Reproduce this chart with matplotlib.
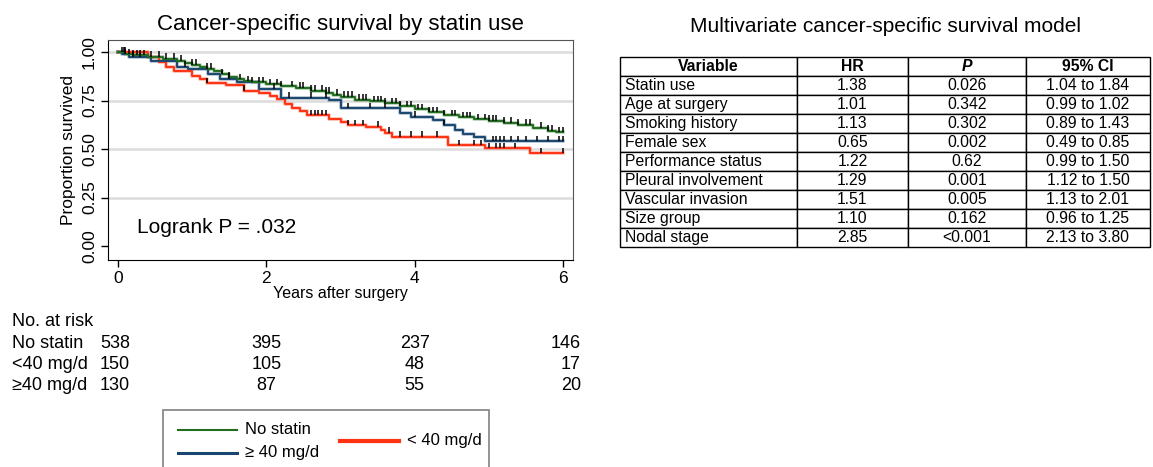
import matplotlib
matplotlib.use("Agg")
import matplotlib.pyplot as plt
import matplotlib.transforms as mtransforms
from matplotlib.lines import Line2D
from matplotlib.patches import Rectangle
import numpy as np

plt.rcParams['font.family'] = ['Liberation Sans', 'DejaVu Sans']

# Kaplan-Meier steps: (time in years, survival after the step)
green_t = [0, 0.1, 0.2, 0.4, 0.6, 0.8, 0.9, 1.0, 1.1, 1.2, 1.3, 1.4, 1.5, 1.6, 1.7, 1.8, 2.0,
           2.2, 2.4, 2.6, 2.8, 2.9, 3.0, 3.2, 3.4, 3.6, 3.8, 4.0, 4.2, 4.4, 4.6, 4.8, 5.0,
           5.2, 5.4, 5.6, 5.8, 5.9, 6.0]
green_s = [1.0, 0.99, 0.985, 0.975, 0.965, 0.955, 0.945, 0.935, 0.925, 0.915, 0.90, 0.885,
           0.87, 0.86, 0.85, 0.845, 0.835, 0.825, 0.815, 0.80, 0.79, 0.78, 0.77, 0.755, 0.745,
           0.735, 0.72, 0.705, 0.69, 0.675, 0.665, 0.655, 0.645, 0.635, 0.625, 0.61, 0.595,
           0.587, 0.587]

navy_t = [0, 0.05, 0.15, 0.45, 0.8, 0.95, 1.22, 1.37, 1.6, 1.9, 2.2, 2.85, 3.0, 3.8, 3.95,
          4.25, 4.4, 4.55, 4.65, 4.8, 4.95, 6.0]
navy_s = [1.0, 0.99, 0.975, 0.954, 0.925, 0.915, 0.885, 0.862, 0.845, 0.81, 0.765, 0.755,
          0.71, 0.687, 0.667, 0.65, 0.624, 0.596, 0.576, 0.56, 0.541, 0.541]

red_t = [0, 0.4, 0.55, 0.65, 0.75, 1.0, 1.1, 1.2, 1.45, 1.7, 1.9, 2.05, 2.15, 2.25, 2.35,
         2.45, 2.55, 2.85, 3.0, 3.1, 3.35, 3.55, 3.6, 3.7, 4.45, 4.95, 5.55, 6.0]
red_s = [1.0, 0.975, 0.95, 0.925, 0.90, 0.876, 0.86, 0.84, 0.83, 0.80, 0.79, 0.773, 0.756,
         0.73, 0.713, 0.696, 0.674, 0.656, 0.64, 0.624, 0.614, 0.598, 0.584, 0.564, 0.52,
         0.503, 0.478, 0.478]

# censoring marks (years)
green_cens = [0.05, 0.08, 0.1, 0.15, 0.2, 0.25, 0.3, 0.35, 0.45, 0.55, 0.65, 0.75, 0.85, 1.0,
              1.05, 1.2, 1.25, 1.4, 1.5, 1.65, 1.75, 1.8, 1.9, 1.95, 2.05, 2.15, 2.2, 2.35,
              2.45, 2.5, 2.6, 2.65, 2.75, 2.8, 2.85, 2.95, 3.05, 3.1, 3.15, 3.25, 3.3, 3.35,
              3.45, 3.5, 3.55, 3.6, 3.7, 3.75, 3.8, 3.9, 3.95, 4.05, 4.1, 4.2, 4.25, 4.3, 4.4,
              4.5, 4.55, 4.65, 4.7, 4.75, 4.85, 4.95, 5.0, 5.05, 5.1, 5.2, 5.3, 5.4, 5.5,
              5.55, 5.7, 5.8, 5.85, 5.95, 6.0]
navy_cens = [0.1, 0.2, 0.3, 0.9, 1.5, 2.1, 2.3, 2.6, 2.8, 3.1, 3.4, 3.6, 4.0, 4.4, 5.05, 5.1,
             5.15, 5.2, 5.3, 5.4, 5.5, 5.65, 5.8, 5.95, 6.0]
red_cens = [0.1, 1.2, 1.7, 2.6, 2.65, 2.7, 2.75, 2.8, 3.1, 3.2, 3.3, 3.5, 3.65, 3.8, 3.95,
            4.1, 4.3, 4.6, 4.8, 4.9, 5.0, 5.1, 5.15, 5.2, 5.35, 5.7, 6.0]

risk_groups = ['No statin', '<40 mg/d', '\u226540 mg/d']
risk_times = [0, 2, 4, 6]
risk_counts = [[538, 395, 237, 146], [150, 105, 48, 17], [130, 87, 55, 20]]

tab_cols = ['Variable', 'HR', 'P', '95% CI']
tab_vars = ['Statin use', 'Age at surgery', 'Smoking history', 'Female sex',
            'Performance status', 'Pleural involvement', 'Vascular invasion',
            'Size group', 'Nodal stage']
tab_hr = ['1.38', '1.01', '1.13', '0.65', '1.22', '1.29', '1.51', '1.10', '2.85']
tab_p = ['0.026', '0.342', '0.302', '0.002', '0.62', '0.001', '0.005', '0.162', '<0.001']
tab_ci = ['1.04 to 1.84', '0.99 to 1.02', '0.89 to 1.43', '0.49 to 0.85', '0.99 to 1.50',
          '1.12 to 1.50', '1.13 to 2.01', '0.96 to 1.25', '2.13 to 3.80']

c_green = '#1f6e1f'
c_navy = '#1a476f'
c_red = '#ff3311'

W, H = 1153, 467
fig = plt.figure(figsize=(W / 100, H / 100), dpi=100)
ax = fig.add_axes([108 / W, 1 - 260 / H, 465 / W, 220 / H])

ax.set_xlim(-0.135, 6.135)
ax.set_ylim(-0.072, 1.062)
for yv in [0.25, 0.5, 0.75, 1.0]:
    ax.axhline(yv, color='#dcdcdc', lw=1.8, zorder=0)


def km(t, s, cens, color, lw):
    ax.step(t, s, where='post', color=color, lw=lw + 1.4, alpha=0.3, zorder=2)
    ax.step(t, s, where='post', color=color, lw=lw, zorder=3)
    idx = np.searchsorted(t, cens, side='right') - 1
    ys = np.array(s)[idx]
    ax.vlines(cens, ys, ys + 0.028, color='black', lw=1.1, zorder=4)


km(red_t, red_s, red_cens, c_red, 1.4)
km(navy_t, navy_s, navy_cens, c_navy, 1.4)
km(green_t, green_s, green_cens, c_green, 1.4)

ax.set_xticks([0, 2, 4, 6])
ax.set_yticks([0, 0.25, 0.5, 0.75, 1.0])
ax.set_yticklabels(['0.00', '0.25', '0.50', '0.75', '1.00'], rotation=90, va='center')
ax.tick_params(axis='both', length=5, width=1, labelsize=12.5, pad=3)
ax.spines['top'].set_color('#555555')
ax.spines['right'].set_color('#555555')
ax.set_xlabel('Years after surgery', fontsize=11.5, labelpad=0)
ax.set_ylabel('Proportion survived', fontsize=12.5, labelpad=4)
ax.set_title('Cancer-specific survival by statin use', fontsize=16, pad=7)
ax.text(0.26, 0.093, 'Logrank P = .032', fontsize=15, va='center')

# number at risk
fig.text(12 / W, 1 - 322 / H, 'No. at risk', fontsize=13, va='center')
blend = mtransforms.blended_transform_factory(ax.transData, fig.transFigure)
for i, grp in enumerate(risk_groups):
    yf = 1 - (343 + i * 21.5) / H
    fig.text(12 / W, yf, grp, fontsize=13, va='center')
    for j, tm in enumerate(risk_times):
        if j == 0:
            ax.text(0.16, yf, str(risk_counts[i][j]), transform=blend, fontsize=13,
                    va='center', ha='right', clip_on=False)
        elif j == len(risk_times) - 1:
            ax.text(tm + 0.24, yf, str(risk_counts[i][j]), transform=blend, fontsize=13,
                    va='center', ha='right', clip_on=False)
        else:
            ax.text(tm, yf, str(risk_counts[i][j]), transform=blend, fontsize=13,
                    va='center', ha='center', clip_on=False)

# legend box
fig.add_artist(Rectangle((163 / W, -0.05), 326 / W, 0.05 + (1 - 410 / H),
                         transform=fig.transFigure, fill=False, ec='#8a8a8a', lw=1.3))
leg_items = [('No statin', c_green, 1.5, 178, 430), ('\u2265 40 mg/d', c_navy, 2.2, 178, 453),
             ('< 40 mg/d', c_red, 3.0, 340, 441)]
for lab, col, lw, x0, yp in leg_items:
    fig.add_artist(Line2D([x0 / W, (x0 + 59) / W], [1 - yp / H, 1 - yp / H],
                          transform=fig.transFigure, color=col, lw=lw))
    fig.text((x0 + 67) / W, 1 - yp / H, lab, fontsize=12, va='center')

# table of the multivariate model
tax = fig.add_axes([620 / W, 1 - 247 / H, 530 / W, 190 / H])
tax.axis('off')
rows = [[v, h, p, c] for v, h, p, c in zip(tab_vars, tab_hr, tab_p, tab_ci)]
tbl = tax.table(cellText=rows, colLabels=tab_cols, bbox=[0, 0, 1, 1],
                colWidths=[177, 111, 118, 124], cellLoc='center')
tbl.auto_set_font_size(False)
for (r, c), cell in tbl.get_celld().items():
    cell.set_linewidth(1.0)
    cell.set_edgecolor('black')
    cell.PAD = 0.03
    cell.get_text().set_fontsize(11.3)
    if c == 0 and r > 0:
        cell.get_text().set_ha('left')
        cell._loc = 'left'
    if r == 0:
        cell.get_text().set_fontweight('bold')
        if c == 2:
            cell.get_text().set_fontstyle('italic')
fig.text(885 / W, 1 - 26 / H, 'Multivariate cancer-specific survival model', fontsize=15,
         ha='center', va='center')

fig.savefig('out.png', dpi=100)
